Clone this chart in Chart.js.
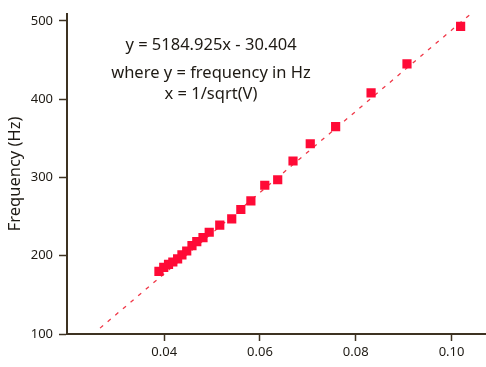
<!DOCTYPE html>
<html>
<head>
<meta charset="utf-8">
<script src="https://cdn.jsdelivr.net/npm/chart.js@4/dist/chart.umd.min.js"></script>
<style>
  html, body { margin: 0; padding: 0; background: #fff; }
  #wrap { width: 486px; height: 367px; }
</style>
</head>
<body>
<div id="wrap"><canvas id="chart" width="486" height="367"></canvas></div>
<script>
// --- données ---
const invSqrtV = [0.0389, 0.0399, 0.0409, 0.0418, 0.0428, 0.0437, 0.0447, 0.0458, 0.0468, 0.0481,
                  0.0494, 0.0516, 0.0541, 0.0560, 0.0581, 0.0610, 0.0637, 0.0669, 0.0705, 0.0758,
                  0.0832, 0.0907, 0.1019];
const frequency = [180, 185, 189, 192, 196, 201, 206, 213, 218, 223,
                   230, 239, 247, 259, 270, 290, 297, 321, 343, 365,
                   408, 445, 493];

// droite de tendance (extrémités du pointillé)
const fitX = [0.0266, 0.1037];
const fitY = [107.5, 507.3];

const xTicks = [0.04, 0.06, 0.08, 0.10];
const yTicks = [100, 200, 300, 400, 500];

const equationLines = ["y = 5184.925x - 30.404", "where y = frequency in Hz", "x = 1/sqrt(V)"];

// --- styles ---
const AXIS = "#3d3222";
const INK = "#1e1a14";
const FONT = "'Noto Sans', sans-serif";

const toPoints = (xs, ys) => xs.map((x, i) => ({ x, y: ys[i] }));

// texte de l'équation dans la zone du graphique
const equationText = {
  id: "equationText",
  afterDraw(chart) {
    const { ctx } = chart;
    ctx.save();
    ctx.fillStyle = INK;
    ctx.font = "16.5px " + FONT;
    ctx.textAlign = "center";
    ctx.textBaseline = "alphabetic";
    const cx = 211;
    const baselines = [50, 78, 99];
    equationLines.forEach((t, i) => ctx.fillText(t, cx, baselines[i]));
    ctx.restore();
  }
};

new Chart(document.getElementById("chart"), {
  type: "scatter",
  data: {
    datasets: [
      {
        type: "line",
        data: toPoints(fitX, fitY),
        borderColor: "#f03848",
        borderWidth: 1.3,
        borderDash: [4, 6],
        pointRadius: 0,
        fill: false,
        order: 2
      },
      {
        data: toPoints(invSqrtV, frequency),
        pointStyle: "rect",
        pointRadius: 6.5,
        pointBackgroundColor: "#ff0a36",
        pointBorderWidth: 0,
        order: 1
      }
    ]
  },
  options: {
    responsive: false,
    animation: false,
    layout: { autoPadding: false, padding: { top: 10, right: 0, left: 0, bottom: 0 } },
    plugins: { legend: { display: false }, tooltip: { enabled: false } },
    scales: {
      x: {
        type: "linear",
        min: 0.0197,
        max: 0.1072,
        afterBuildTicks: (s) => { s.ticks = xTicks.map(v => ({ value: v })); },
        afterFit: (s) => { s.height = 33; s.paddingLeft = 0; s.paddingRight = 0; },
        border: { color: AXIS, width: 2 },
        grid: { drawOnChartArea: false, color: AXIS, tickLength: 7, tickWidth: 1.5 },
        ticks: {
          color: INK,
          padding: 3,
          font: { family: FONT, size: 13 },
          callback: (v) => Number(v).toFixed(2)
        }
      },
      y: {
        type: "linear",
        min: 100,
        max: 509,
        afterBuildTicks: (s) => { s.ticks = yTicks.map(v => ({ value: v })); },
        afterFit: (s) => { s.width = 67; },
        border: { color: AXIS, width: 2 },
        grid: { drawOnChartArea: false, color: AXIS, tickLength: 8, tickWidth: 1.5 },
        ticks: {
          color: INK,
          padding: 6,
          font: { family: FONT, size: 13 }
        },
        title: {
          display: true,
          text: "Frequency (Hz)",
          color: INK,
          font: { family: FONT, size: 16.5 },
          padding: { top: 5, bottom: 0 }
        }
      }
    }
  },
  plugins: [equationText]
});
</script>
</body>
</html>
